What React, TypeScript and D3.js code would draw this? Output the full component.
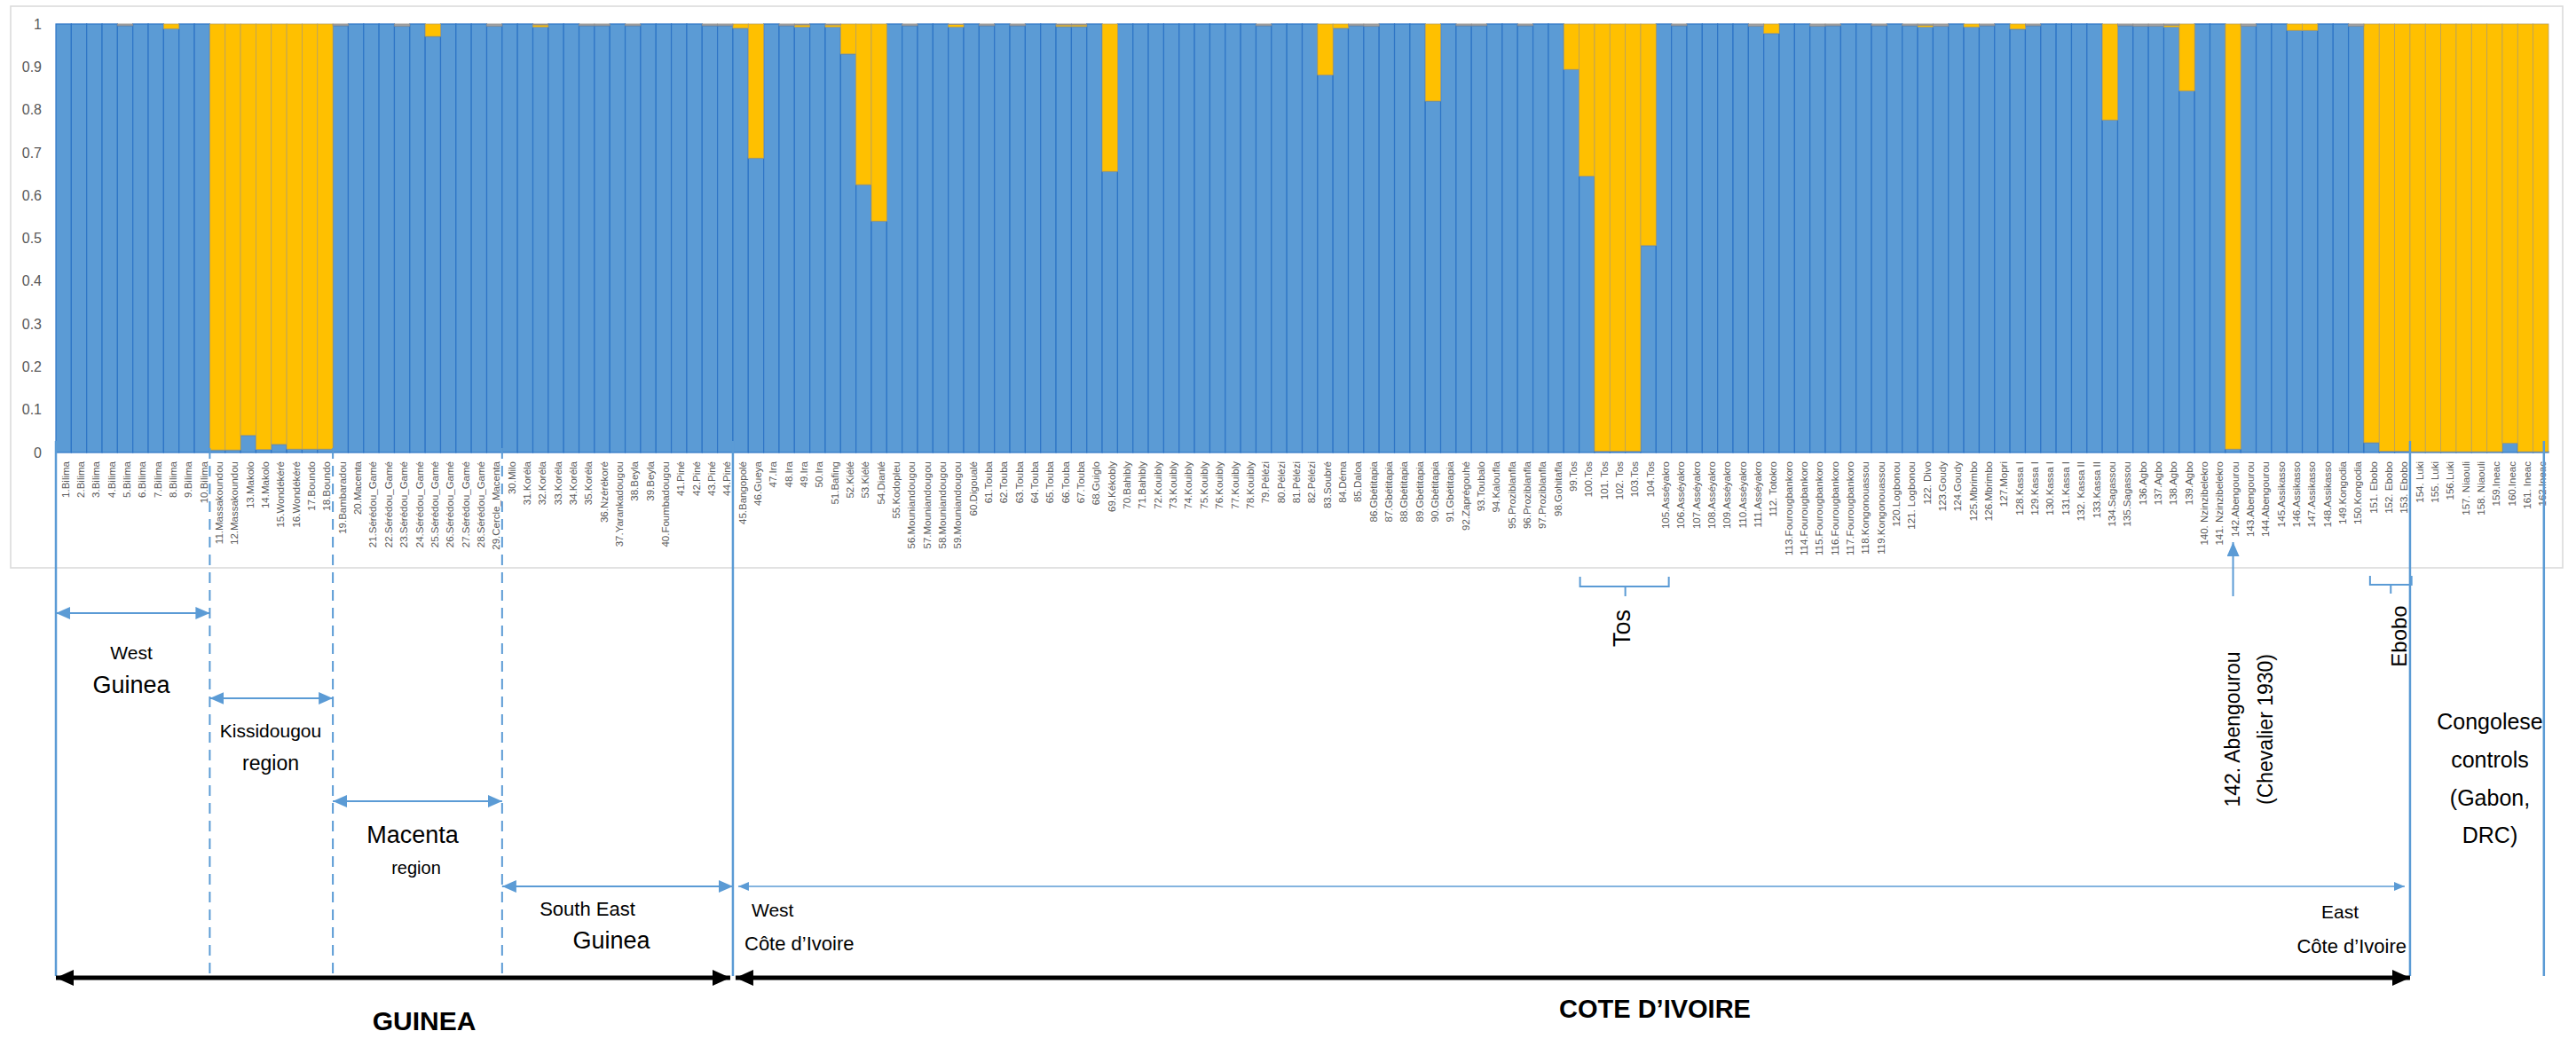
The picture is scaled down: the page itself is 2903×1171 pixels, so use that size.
import React, { useEffect } from 'react';
import * as d3 from 'd3';

const W = 2903;
const H = 1171;

const names: string[] = [
  'Bilima','Bilima','Bilima','Bilima','Bilima','Bilima','Bilima','Bilima','Bilima','Bilima',
  'Massakoundou','Massakoundou','Makolo','Makolo','Wondékéré','Wondékéré','Boundo','Boundo','Bambaradou','Macenta',
  'Sérédou_Gamé','Sérédou_Gamé','Sérédou_Gamé','Sérédou_Gamé','Sérédou_Gamé','Sérédou_Gamé','Sérédou_Gamé','Sérédou_Gamé','Cercle_Macenta','Milo',
  'Koréla','Koréla','Koréla','Koréla','Koréla','Nzérékoré','Yarankadougou','Beyla','Beyla','Foumbadougou',
  'Piné','Piné','Piné','Piné','Bangopolé','Gueya','Ira','Ira','Ira','Ira',
  'Bafing','Kiélé','Kiélé','Dianlé','Kodopleu','Mouniandougou','Mouniandougou','Mouniandougou','Mouniandougou','Digoualé',
  'Touba','Touba','Touba','Touba','Touba','Touba','Touba','Guiglo','Kékobly','Bahibly',
  'Bahibly','Kouibly','Kouibly','Kouibly','Kouibly','Kouibly','Kouibly','Kouibly','Pélézi','Pélézi',
  'Pélézi','Pélézi','Soubré','Déma','Daloa','Gbétitapia','Gbétitapia','Gbétitapia','Gbétitapia','Gbétitapia',
  'Gbétitapia','Zaprégouhé','Toubalo','Kaloufla','Proziblanfla','Proziblanfla','Proziblanfla','Gohitafla','Tos','Tos',
  ' Tos',' Tos','Tos','Tos','Asséyakro','Asséyakro','Asséyakro','Asséyakro','Asséyakro','Asséyakro',
  'Asséyakro',' Totokro','Fourougbankoro','Fourougbankoro','Fourougbankoro','Fourougbankoro','Fourougbankoro','Kongonouassou','Kongonouassou','Logbonou',
  ' Logbonou',' Divo','Goudy','Goudy','Mbrimbo','Mbrimbo','Mopri','Kassa I','Kassa I','Kassa I',
  'Kassa I',' Kassa II','Kassa II','Sagassou','Sagassou','Agbo','Agbo','Agbo','Agbo',' Nzinzibelekro',
  ' Nzinzibelekro','Abengourou','Abengourou','Abengourou','Assikasso','Assikasso','Assikasso','Assikasso','Kongodia','Kongodia',
  ' Ebobo',' Ebobo',' Ebobo',' Luki',' Luki','Luki',' Niaouli',' Niaouli','Ineac','Ineac',
  ' Ineac','Ineac'
];

const blue: number[] = [
  1,1,1,1,0.996,1,1,0.989,1,1,
  0.006,0.006,0.04,0.007,0.019,0.008,0.008,0.008,0.996,1,
  1,1,0.995,1,0.971,1,1,1,0.995,1,
  1,0.993,1,1,0.996,0.996,1,0.996,1,1,
  1,1,0.996,0.996,0.99,0.687,1,0.996,0.993,1,
  0.993,0.93,0.625,0.54,1,0.996,1,1,0.993,1,
  0.996,1,0.996,1,1,0.994,0.994,1,0.656,1,
  1,1,1,1,1,1,1,1,0.996,1,
  1,1,0.881,0.99,0.996,0.995,1,1,1,0.82,
  1,0.996,0.996,1,1,0.996,1,1,0.894,0.645,
  0.003,0.003,0.003,0.483,1,0.996,1,1,1,1,
  0.995,0.978,1,1,0.995,0.996,1,1,0.996,1,
  0.996,0.993,0.995,1,0.993,0.996,1,0.988,0.996,1,
  1,1,1,0.776,0.996,0.995,0.995,0.993,0.844,1,
  1,0.008,0.995,1,1,0.985,0.985,1,1,0.995,
  0.023,0.003,0.003,0.002,0.002,0.002,0.002,0.002,0.002,0.022,
  0.002,0.002
];

const yellow: number[] = [
  0,0,0,0,0,0,0,0.011,0,0,
  0.994,0.994,0.96,0.993,0.981,0.992,0.992,0.992,0,0,
  0,0,0,0,0.029,0,0,0,0,0,
  0,0.005,0,0,0,0,0,0,0,0,
  0,0,0,0,0.01,0.313,0,0,0.005,0,
  0.005,0.07,0.375,0.46,0,0,0,0,0.006,0,
  0,0,0,0,0,0.004,0.004,0,0.344,0,
  0,0,0,0,0,0,0,0,0,0,
  0,0,0.119,0.01,0,0,0,0,0,0.18,
  0,0,0,0,0,0,0,0,0.106,0.355,
  0.997,0.997,0.997,0.517,0,0,0,0,0,0,
  0,0.022,0,0,0,0,0,0,0,0,
  0,0.004,0,0,0.007,0,0,0.012,0,0,
  0,0,0,0.224,0,0,0,0.004,0.156,0,
  0,0.992,0,0,0,0.015,0.015,0,0,0,
  0.977,0.997,0.997,0.998,0.998,0.998,0.998,0.998,0.998,0.978,
  0.998,0.998
];

const yTicks = [0, 0.1, 0.2, 0.3, 0.4, 0.5, 0.6, 0.7, 0.8, 0.9, 1];
const seriesKeys = ['blue', 'yellow', 'grey'];
const seriesFill: Record<string, string> = { blue: '#5B9BD5', yellow: '#FFC000', grey: '#A5A5A5' };
const seriesStroke: Record<string, string> = { blue: '#2E75C6', yellow: '#B8A060', grey: '#8C8C8C' };

const LINE = '#5B9BD5';
const FONT = "'Liberation Sans', Arial, sans-serif";

export default function App() {
  useEffect(() => {
    document.body.style.margin = '0';
  }, []);

  const labels = names.map((n, i) => `${i + 1}.${n}`);
  const x = d3.scaleBand<string>().domain(labels).range([63, 2872]).padding(0);
  const y = d3.scaleLinear().domain([0, 1]).range([510, 27]);
  const bw = x.bandwidth();
  const b = (k: number) => (x.range()[0] as number) + k * bw;

  const rows = labels.map((l, i) => ({
    label: l,
    blue: blue[i],
    yellow: yellow[i],
    grey: Math.max(0, 1 - blue[i] - yellow[i]),
  }));
  const stacked = d3.stack<any>().keys(seriesKeys)(rows);

  const solidLines = [0, 44, 153, 161.7];
  const dashedLines = [10, 18, 29];
  const blueArrows = [
    { a: 0, z: 10, y: 691 },
    { a: 10, z: 18, y: 787 },
    { a: 18, z: 29, y: 903 },
    { a: 29, z: 44, y: 999 },
  ];

  return (
    <svg width={W} height={H} style={{ display: 'block', background: '#fff' }} fontFamily={FONT}>
      <defs>
        <marker id="ab" viewBox="0 0 16 14" refX="16" refY="7" markerWidth="16" markerHeight="14"
          markerUnits="userSpaceOnUse" orient="auto-start-reverse">
          <path d="M0,0 L16,7 L0,14 z" fill={LINE} />
        </marker>
        <marker id="abs" viewBox="0 0 12 10" refX="12" refY="5" markerWidth="12" markerHeight="10"
          markerUnits="userSpaceOnUse" orient="auto-start-reverse">
          <path d="M0,0 L12,5 L0,10 z" fill={LINE} />
        </marker>
        <marker id="ak" viewBox="0 0 20 18" refX="20" refY="9" markerWidth="20" markerHeight="18"
          markerUnits="userSpaceOnUse" orient="auto-start-reverse">
          <path d="M0,0 L20,9 L0,18 z" fill="#000" />
        </marker>
      </defs>

      <rect x={12} y={7} width={2876} height={633} fill="none" stroke="#D9D9D9" strokeWidth={1.5} />

      {yTicks.map((t) => (
        <text key={t} x={47} y={y(t)} dy="0.35em" textAnchor="end" fontSize={16} fill="#595959">
          {String(t)}
        </text>
      ))}

      {stacked.map((s) => (
        <g key={s.key} fill={seriesFill[s.key]} stroke={seriesStroke[s.key]} strokeWidth={s.key === 'blue' ? 1.2 : 0.8}>
          {s.map((d, i) => {
            const h = y(d[0]) - y(d[1]);
            if (h <= 0.05) return null;
            return <rect key={i} x={x(labels[i])} y={y(d[1])} width={bw} height={h} />;
          })}
        </g>
      ))}

      {labels.map((l) => (
        <text key={l} transform={`translate(${(x(l) as number) + bw / 2 + 2},520) rotate(-90)`}
          dy="0.35em" textAnchor="end" fontSize={11.5} fill="#595959">
          {l}
        </text>
      ))}

      {solidLines.map((k) => (
        <line key={'s' + k} x1={b(k)} x2={b(k)} y1={497} y2={1100} stroke={LINE} strokeWidth={2.5} />
      ))}
      {dashedLines.map((k) => (
        <line key={'d' + k} x1={b(k)} x2={b(k)} y1={505} y2={1100} stroke={LINE} strokeWidth={2} strokeDasharray="12 8" />
      ))}

      {blueArrows.map((a) => (
        <line key={'a' + a.a} x1={b(a.a)} x2={b(a.z)} y1={a.y} y2={a.y} stroke={LINE} strokeWidth={2}
          markerStart="url(#ab)" markerEnd="url(#ab)" />
      ))}
      <line x1={b(44) + 6} x2={b(153) - 6} y1={999} y2={999} stroke={LINE} strokeWidth={1.3}
        markerStart="url(#abs)" markerEnd="url(#abs)" />

      <line x1={b(0)} x2={b(44) - 3} y1={1102} y2={1102} stroke="#000" strokeWidth={5}
        markerStart="url(#ak)" markerEnd="url(#ak)" />
      <line x1={b(44) + 3} x2={b(153)} y1={1102} y2={1102} stroke="#000" strokeWidth={5}
        markerStart="url(#ak)" markerEnd="url(#ak)" />

      {/* Tos bracket */}
      <path d={`M${b(99) + 1},650 V661 H${b(105) - 3} V650 M${b(102)},661 V672`} fill="none" stroke={LINE} strokeWidth={2} />
      {/* Ebobo bracket */}
      <path d={`M${b(150.4)},649 V659 H${b(153.1)} V649 M${b(151.75)},659 V669`} fill="none" stroke={LINE} strokeWidth={2} />
      {/* Abengourou arrow */}
      <line x1={b(141.5)} x2={b(141.5)} y1={672} y2={611} stroke={LINE} strokeWidth={2} markerEnd="url(#ab)" />

      <g fill="#000" textAnchor="middle">
        <text x={148} y={736} dy="0.35em" fontSize={21}>West</text>
        <text x={148} y={772} dy="0.35em" fontSize={27}>Guinea</text>
        <text x={305} y={824} dy="0.35em" fontSize={21}>Kissidougou</text>
        <text x={305} y={860} dy="0.35em" fontSize={23}>region</text>
        <text x={465} y={941} dy="0.35em" fontSize={27}>Macenta</text>
        <text x={469} y={978} dy="0.35em" fontSize={20}>region</text>
        <text x={662} y={1024} dy="0.35em" fontSize={22}>South East</text>
        <text x={689} y={1060} dy="0.35em" fontSize={27}>Guinea</text>
        <text x={847} y={1026} dy="0.35em" fontSize={21} textAnchor="start">West</text>
        <text x={839} y={1063} dy="0.35em" fontSize={22} textAnchor="start">Côte d’Ivoire</text>
        <text x={2658} y={1028} dy="0.35em" fontSize={21} textAnchor="end">East</text>
        <text x={2712} y={1066} dy="0.35em" fontSize={22} textAnchor="end">Côte d’Ivoire</text>
        <text transform="translate(1828,708) rotate(-90)" dy="0.35em" fontSize={27}>Tos</text>
        <text transform="translate(2516,822) rotate(-90)" dy="0.35em" fontSize={23}>142. Abengourou</text>
        <text transform="translate(2553,822) rotate(-90)" dy="0.35em" fontSize={23}>(Chevalier 1930)</text>
        <text transform="translate(2704,717) rotate(-90)" dy="0.35em" fontSize={24}>Ebobo</text>
        <text x={2806} y={813} dy="0.35em" fontSize={25}>Congolese</text>
        <text x={2806} y={856} dy="0.35em" fontSize={25}>controls</text>
        <text x={2806} y={899} dy="0.35em" fontSize={25}>(Gabon,</text>
        <text x={2806} y={941} dy="0.35em" fontSize={25}>DRC)</text>
        <text x={478} y={1150} dy="0.35em" fontSize={30} fontWeight="bold">GUINEA</text>
        <text x={1865} y={1137} dy="0.35em" fontSize={29} fontWeight="bold">COTE D’IVOIRE</text>
      </g>
    </svg>
  );
}
